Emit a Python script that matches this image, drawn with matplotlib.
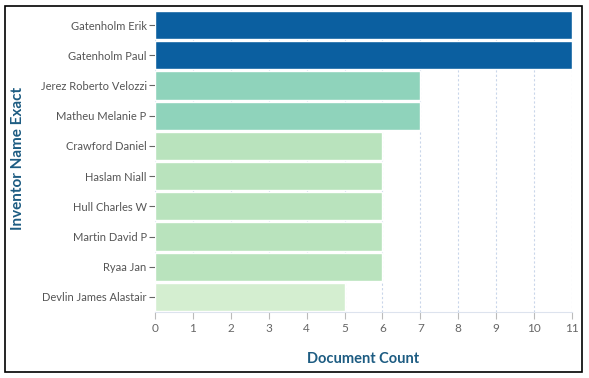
import matplotlib.pyplot as plt
from matplotlib.patches import Rectangle

plt.rcParams["font.family"] = ["Lato", "DejaVu Sans"]

inventors = ["Gatenholm Erik", "Gatenholm Paul", "Jerez Roberto Velozzi", "Matheu Melanie P",
             "Crawford Daniel", "Haslam Niall", "Hull Charles W", "Martin David P",
             "Ryaa Jan", "Devlin James Alastair"]
counts = [11, 11, 7, 7, 6, 6, 6, 6, 6, 5]
colors = ["#0b5fa0", "#0b5fa0", "#8fd3bb", "#8fd3bb", "#b9e3bd", "#b9e3bd",
          "#b9e3bd", "#b9e3bd", "#b9e3bd", "#d4eed0"]

fig = plt.figure(figsize=(5.89, 3.78), dpi=100)
fig.patches.append(Rectangle((5 / 589, 6 / 378), 577 / 589, 366 / 378, transform=fig.transFigure,
                             fill=False, edgecolor="black", linewidth=1.2))
ax = fig.add_axes([155 / 589, 66 / 378, 417 / 589, 302 / 378])

y = list(range(len(inventors)))
ax.barh(y, counts, height=0.94, color=colors, edgecolor="white", linewidth=1, zorder=2)
ax.set_yticks(y)
ax.set_yticklabels(inventors)
ax.set_ylim(len(inventors) - 0.5, -0.5)
ax.set_xlim(0, 11)
ax.set_xticks(range(12))

ax.grid(axis="x", color="#c9d6ea", linestyle=(0, (2, 2)), linewidth=0.8, zorder=0)
for s in ["top", "right", "left"]:
    ax.spines[s].set_visible(False)
ax.spines["bottom"].set_color("#dde3ee")
ax.tick_params(axis="y", length=4, color="#666666", labelcolor="#555555", labelsize=8, pad=2)
ax.tick_params(axis="x", length=5, color="#bbbbbb", labelcolor="#666666", labelsize=8.5, pad=3)

ax.set_xlabel("Document Count", color="#1d5c82", fontweight="bold", fontsize=10.5, labelpad=13)
ax.set_ylabel("Inventor Name Exact", color="#1d5c82", fontweight="bold", fontsize=11)
ax.yaxis.set_label_coords(25 / 589, 1 - 158 / 378, transform=fig.transFigure)

fig.savefig("out.png", dpi=100)
